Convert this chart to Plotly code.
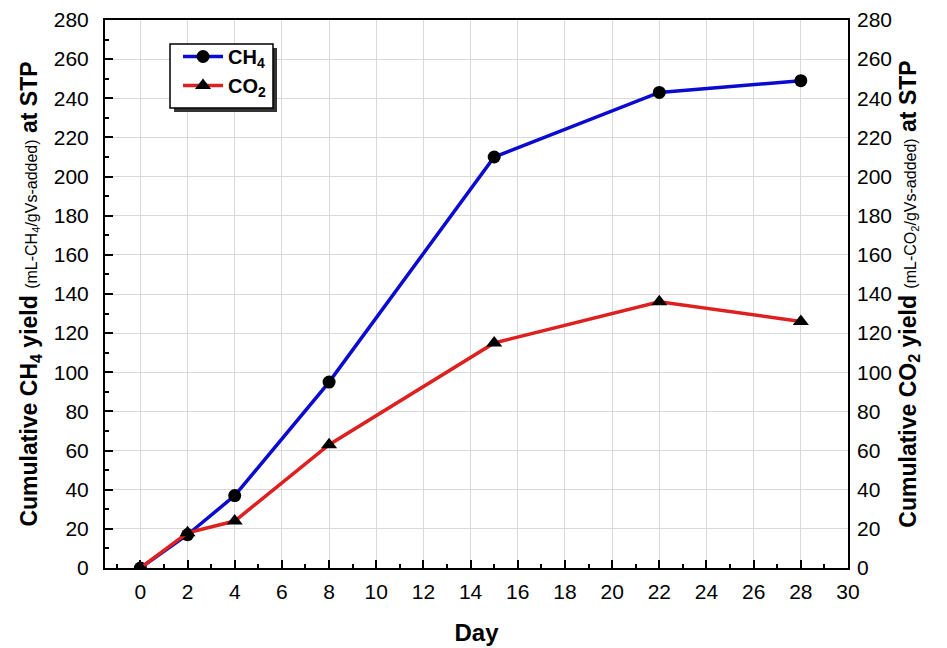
import plotly.graph_objects as go

days = [0, 2, 4, 8, 15, 22, 28]
ch4 = [0, 17, 37, 95, 210, 243, 249]
co2 = [0, 18, 24, 63, 115, 136, 126]
x_ticks = list(range(0, 31, 2))
y_ticks = list(range(0, 281, 20))

FONT = "Liberation Sans, Arial, sans-serif"

fig = go.Figure()
fig.add_trace(go.Scatter(
    x=days, y=ch4, mode="lines+markers", name="<b>CH<sub>4</sub></b>",
    line=dict(color="#0a0ad0", width=3.5),
    marker=dict(symbol="circle", size=13, color="black"),
))
fig.add_trace(go.Scatter(
    x=days, y=co2, mode="lines+markers", name="<b>CO<sub>2</sub></b>",
    line=dict(color="#dd2020", width=3.5),
    marker=dict(symbol="triangle-up", size=14, color="black"),
    yaxis="y2",
))

L, R, T, B = 105, 99, 20, 80
W, H = 947, 648

# legend box drop shadow and frame
fig.add_shape(type="rect", xref="paper", yref="paper",
              x0=0.0929, x1=0.2315, y0=0.8321, y1=0.9489,
              fillcolor="#333333", line=dict(width=0), layer="above")
fig.add_shape(type="rect", xref="paper", yref="paper",
              x0=0.0875, x1=0.2261, y0=0.8394, y1=0.9562,
              fillcolor="white", line=dict(width=1.5, color="black"), layer="above")

fig.update_layout(
    width=W, height=H,
    margin=dict(l=L, r=R, t=T, b=B, autoexpand=False),
    paper_bgcolor="white", plot_bgcolor="white",
    font=dict(family=FONT, color="black", size=21),
    showlegend=True,
    legend=dict(
        x=0.0983, y=0.969, xanchor="left", yanchor="top",
        bgcolor="rgba(0,0,0,0)", borderwidth=0,
        font=dict(size=20, family=FONT), itemwidth=40,
        tracegroupgap=0,
    ),
    xaxis=dict(
        range=[-1.5, 30], tickvals=x_ticks, ticks="inside", ticklen=8, tickwidth=1.5,
        tickcolor="black", automargin=False,
        minor=dict(dtick=1, ticks="inside", ticklen=4, tickcolor="black", showgrid=False),
        showgrid=True, gridcolor="#d9d9d9", gridwidth=1,
        showline=True, linecolor="black", linewidth=2, mirror=True,
        zeroline=False, ticklabelstandoff=4,
        title=dict(text="<b>Day</b>", font=dict(size=24, family=FONT), standoff=22),
        tickfont=dict(size=21),
    ),
    yaxis=dict(
        range=[0, 280], tickvals=y_ticks, ticks="inside", ticklen=8, tickwidth=1.5,
        tickcolor="black", automargin=False,
        minor=dict(dtick=10, ticks="inside", ticklen=4, tickcolor="black", showgrid=False),
        showgrid=True, gridcolor="#d9d9d9", gridwidth=1,
        showline=True, linecolor="black", linewidth=2, mirror=True,
        zeroline=False, ticklabelstandoff=10,
        title=dict(
            text="<b>Cumulative CH<sub>4</sub> yield</b> <span style='font-size:16px'>(mL-CH<sub>4</sub>/gVs-added)</span> <b>at STP</b>",
            font=dict(size=23, family=FONT), standoff=10),
        tickfont=dict(size=21),
    ),
    yaxis2=dict(
        range=[0, 280], tickvals=y_ticks, overlaying="y", side="right",
        showgrid=False, zeroline=False, ticks="", ticklabelstandoff=8,
        automargin=False,
        title=dict(
            text="<b>Cumulative CO<sub>2</sub> yield</b> <span style='font-size:16px'>(mL-CO<sub>2</sub>/gVs-added)</span> <b>at STP</b>",
            font=dict(size=23, family=FONT), standoff=8),
        tickfont=dict(size=21),
    ),
)

fig.write_html("out.html")
